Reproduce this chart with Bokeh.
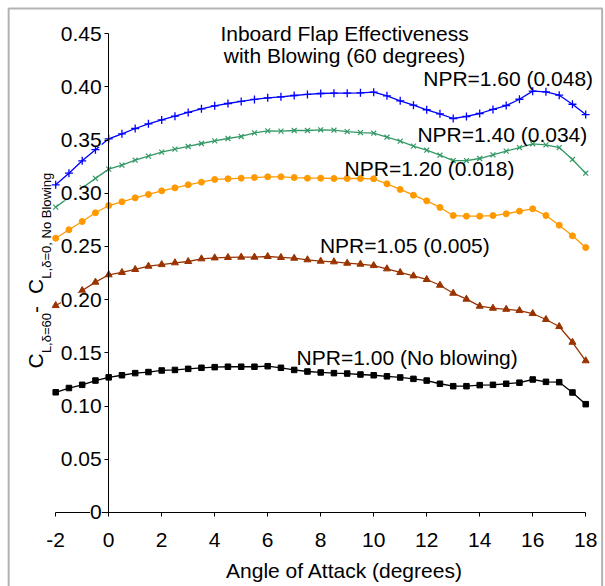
import math
from bokeh.plotting import figure
from bokeh.models import Range1d, FixedTicker, Label, CustomJSTickFormatter, BoxAnnotation
from bokeh.embed import file_html
from bokeh.resources import INLINE

# ---------------- data ----------------
alpha = [-2, -1.5, -1, -0.5, 0, 0.5, 1, 1.5, 2, 2.5, 3, 3.5, 4, 4.5, 5, 5.5, 6,
         6.5, 7, 7.5, 8, 8.5, 9, 9.5, 10, 10.5, 11, 11.5, 12, 12.5, 13, 13.5,
         14, 14.5, 15, 15.5, 16, 16.5, 17, 17.5, 18]

npr160 = [0.308, 0.3189, 0.3305, 0.341, 0.3512,
          0.3559, 0.3609, 0.3653, 0.369, 0.3725, 0.376, 0.3794, 0.3822, 0.3844,
          0.3863, 0.3882, 0.3897, 0.3907, 0.3919, 0.3929, 0.3938,
          0.3941, 0.3941, 0.3944, 0.395, 0.3916, 0.3869, 0.3828, 0.3785, 0.3747,
          0.3703, 0.3722, 0.375, 0.3788, 0.3825, 0.3884, 0.396, 0.3954, 0.3922,
          0.3837, 0.374]

npr140 = [0.287, 0.296, 0.305, 0.314, 0.3227,
          0.3264, 0.3311, 0.3349, 0.3387, 0.3415, 0.344, 0.3468, 0.3493, 0.3515,
          0.3534, 0.3568, 0.3587, 0.3584, 0.359, 0.359, 0.3597,
          0.3593, 0.358, 0.3571, 0.3565, 0.3527, 0.349, 0.3443, 0.3405, 0.3358,
          0.3308, 0.3308, 0.3327, 0.3362, 0.3396, 0.343, 0.3465, 0.3455, 0.343,
          0.3318, 0.3189]

npr120 = [0.2578, 0.2657, 0.2735, 0.2817, 0.2885,
          0.292, 0.2957, 0.2989, 0.3023, 0.3051, 0.308, 0.3105, 0.313, 0.3136,
          0.3142, 0.3148, 0.3155, 0.3155, 0.3148, 0.3142, 0.3142,
          0.3139, 0.3139, 0.3139, 0.3136, 0.3089, 0.3036, 0.2982, 0.2929, 0.2867,
          0.2791, 0.2785, 0.2785, 0.2791, 0.2807, 0.2832, 0.2854, 0.2791, 0.270,
          0.260, 0.249]

npr105 = [0.1945, 0.2014, 0.2086, 0.2165, 0.2234,
          0.2256, 0.2284, 0.2315, 0.233, 0.2347, 0.2359, 0.2384, 0.2393, 0.2397,
          0.240, 0.240, 0.2406, 0.2397, 0.239, 0.2375, 0.2362,
          0.2356, 0.2343, 0.2334, 0.2321, 0.229, 0.2256, 0.2224, 0.219, 0.2136,
          0.2061, 0.2005, 0.1939, 0.192, 0.191, 0.1898, 0.187, 0.1814, 0.1748,
          0.160, 0.1426]

npr100 = [0.113, 0.117, 0.120, 0.124, 0.127,
          0.129, 0.131, 0.132, 0.1335, 0.134, 0.135, 0.136, 0.1366, 0.137,
          0.137, 0.137, 0.1375, 0.136, 0.134, 0.1325, 0.1316,
          0.131, 0.1306, 0.1297, 0.129, 0.128, 0.1269, 0.1256, 0.124, 0.121,
          0.1187, 0.1187, 0.1197, 0.120, 0.121, 0.122, 0.125, 0.1228, 0.1225,
          0.1128, 0.1018]

series_labels = ["NPR=1.60 (0.048)", "NPR=1.40 (0.034)", "NPR=1.20 (0.018)",
                 "NPR=1.05 (0.005)", "NPR=1.00 (No blowing)"]

x_ticks = [-2, 0, 2, 4, 6, 8, 10, 12, 14, 16, 18]
y_ticks = [0, 0.05, 0.10, 0.15, 0.20, 0.25, 0.30, 0.35, 0.40, 0.45]
y_tick_labels = ["0", "0.05", "0.10", "0.15", "0.20", "0.25", "0.30", "0.35",
                 "0.40", "0.45"]

title_lines = ["Inboard Flap Effectiveness", "with Blowing (60 degrees)"]
x_title = "Angle of Attack (degrees)"

# ---------------- figure (frame fills the canvas; axes are placed inside) ----
FONT = "Liberation Sans"
p = figure(width=605, height=586,
           x_range=Range1d(-4.083, 18.747), y_range=Range1d(-0.06955, 0.4812),
           output_backend="svg", toolbar_location=None,
           min_border_left=0, min_border_right=0, min_border_top=0,
           min_border_bottom=0)
p.grid.visible = False
p.outline_line_color = None
p.background_fill_color = "white"
p.border_fill_color = "white"

# x axis along y = 0, spanning -2 .. 18
p.xaxis.fixed_location = 0
p.xaxis.bounds = (x_ticks[0], x_ticks[-1])
p.xaxis.ticker = FixedTicker(ticks=x_ticks)
p.xaxis.major_label_overrides = {-2: "-2"}
p.xaxis.minor_tick_line_color = None
p.xaxis.major_tick_in = 0
p.xaxis.major_tick_out = 4
p.xaxis.axis_line_color = "black"
p.xaxis.major_tick_line_color = "black"
p.xaxis.major_label_text_font = FONT
p.xaxis.major_label_text_font_size = "21px"
p.xaxis.major_label_text_color = "black"
p.xaxis.major_label_standoff = 17

# y axis along x = 0, spanning 0 .. 0.45
p.yaxis.fixed_location = 0
p.yaxis.bounds = (y_ticks[0], y_ticks[-1])
p.yaxis.ticker = FixedTicker(ticks=y_ticks)
p.yaxis.minor_tick_line_color = None
p.yaxis.major_tick_in = 0
p.yaxis.major_tick_out = 4
p.yaxis.axis_line_color = "black"
p.yaxis.major_tick_line_color = "black"
p.yaxis.formatter = CustomJSTickFormatter(code="return ''")

# ---------------- series ----------------
styles = [
    (npr160, "#0000FF", "cross", 8, 1.3),
    (npr140, "#339966", "x", 7, 1.2),
    (npr120, "#FF9900", "circle", 6, 1.0),
    (npr105, "#993300", "triangle", 7, 1.0),
    (npr100, "#000000", "square", 5.5, 1.0),
]
for ys, col, mk, sz, lw in styles:
    p.line(alpha, ys, line_color=col, line_width=1.3)
    p.scatter(alpha, ys, marker=mk, size=sz, line_color=col, fill_color=col,
              line_width=lw)

# ---------------- y tick labels (white background, over the lines) ---------
for v, t in zip(y_ticks, y_tick_labels):
    p.add_layout(Label(x=0, y=v, x_offset=-7, text=t, text_align="right",
                       text_baseline="middle", text_font=FONT,
                       text_font_size="21px", text_color="black",
                       background_fill_color="white"))

# ---------------- series labels ----------------
label_pos = [(11.87, 0.4075), (11.65, 0.3552), (8.90, 0.3230), (7.97, 0.2506),
             (7.09, 0.1453)]
for (lx, ly), t in zip(label_pos, series_labels):
    p.add_layout(Label(x=lx, y=ly, text=t, text_align="left",
                       text_baseline="middle", text_font=FONT,
                       text_font_size="21px", text_color="black"))

# ---------------- title ----------------
for ly, t in zip([0.4500, 0.4291], title_lines):
    p.add_layout(Label(x=8.9, y=ly, text=t, text_align="center",
                       text_baseline="middle", text_font=FONT,
                       text_font_size="21px", text_color="black"))

# ---------------- x axis title ----------------
p.add_layout(Label(x=8.9, y=-0.0545, text=x_title, text_align="center",
                   text_baseline="middle", text_font=FONT,
                   text_font_size="21px", text_color="black"))

# ---------------- y axis title (rotated, with subscripts) ----------------
ypieces = [
    ("C", 0.1353, -20.0, "21px"),
    ("L,\u03b4=60", 0.1498, -9.5, "13px"),
    (" - ", 0.1875, -20.0, "21px"),
    ("C", 0.2053, -20.0, "21px"),
    ("L,\u03b4=0, No Blowing", 0.2198, -9.5, "13px"),
]
for t, ly, xo, fs in ypieces:
    p.add_layout(Label(x=-2, y=ly, x_offset=xo, text=t, angle=math.pi / 2,
                       text_align="left", text_baseline="middle",
                       text_font=FONT, text_font_size=fs, text_color="black"))

# ---------------- outer chart border ----------------
p.add_layout(BoxAnnotation(left=-3.775, right=18.62, top=0.4737, bottom=-0.09,
                           fill_color=None, line_color="black", line_width=2))

open("out.html", "w").write(file_html(p, INLINE))
